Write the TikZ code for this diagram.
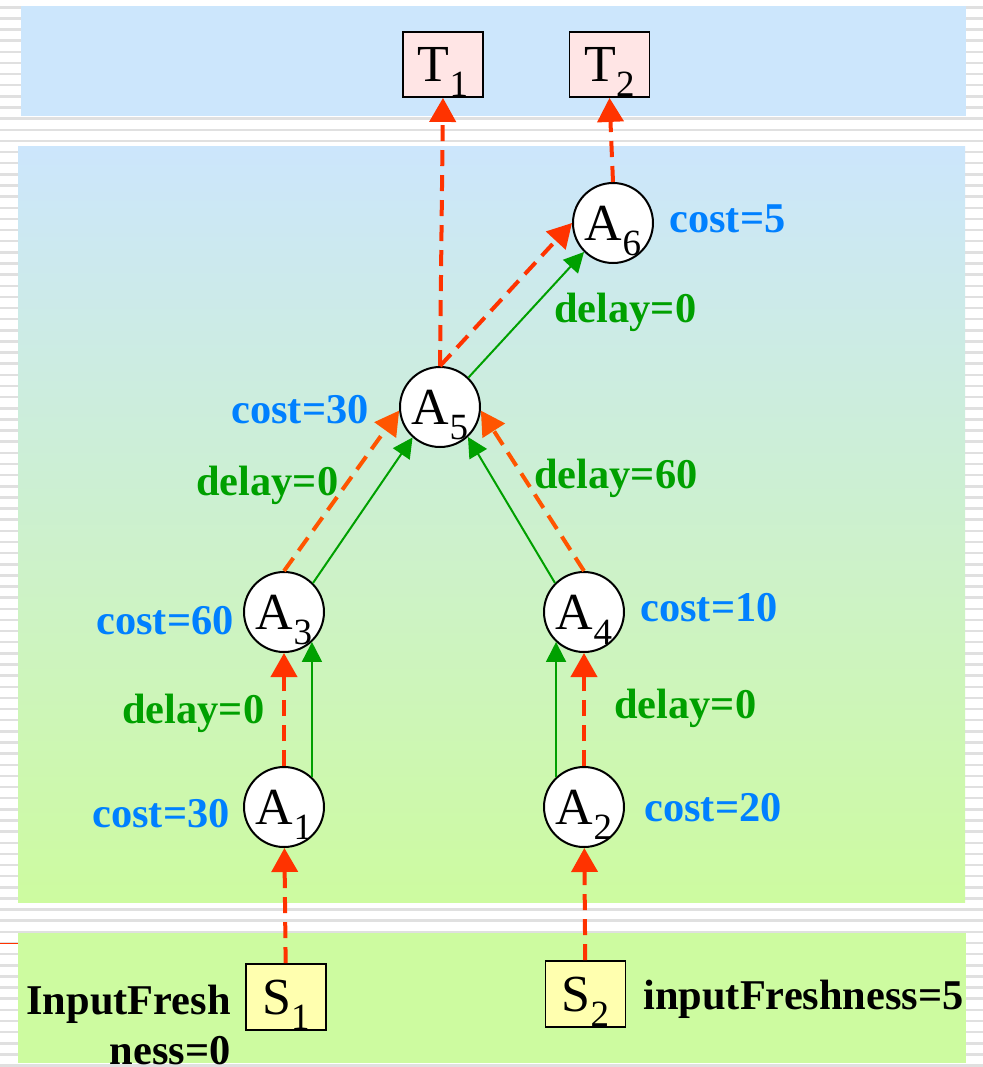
\documentclass[tikz,border=0pt]{standalone}
\usepackage{fontspec}
\setmainfont{Liberation Serif}
\usetikzlibrary{arrows.meta}
\definecolor{panelblue}{RGB}{204,230,252}
\definecolor{panelgreen}{RGB}{205,251,160}
\definecolor{stripegray}{RGB}{224,224,224}
\definecolor{flowred}{RGB}{255,51,0}
\definecolor{floworange}{RGB}{255,85,0}
\definecolor{delaygreen}{RGB}{0,160,0}
\definecolor{costblue}{RGB}{0,128,255}
\definecolor{targetpink}{RGB}{255,229,229}
\definecolor{sourceyellow}{RGB}{255,255,175}

% activity name with a lowered index
\newcommand{\idx}[2]{#1\raisebox{-7.5pt}{\fontsize{18.5}{18.5}\selectfont #2}}

\begin{document}
\begin{tikzpicture}[x=0.5pt, y=-0.5pt,
    act/.style={circle, draw, line width=1pt, fill=white, minimum size=40pt,
        inner sep=0pt, font=\fontsize{26}{30}\selectfont, text depth=0pt},
    target/.style={rectangle, draw, line width=0.9pt, fill=targetpink,
        minimum width=40pt, minimum height=32.5pt, inner sep=0pt,
        font=\fontsize{26}{30}\selectfont, text depth=0pt},
    source/.style={target, fill=sourceyellow, minimum height=33pt},
    flow/.style={draw=flowred, line width=2pt, dash pattern=on 8pt off 4.5pt,
        -{Triangle[length=12pt, width=13pt]}},
    ctrl/.style={draw=delaygreen, line width=1pt,
        -{Triangle[length=10pt, width=10pt]}},
    costlbl/.style={text=costblue, anchor=base west, inner sep=0pt,
        font=\bfseries\fontsize{21.2}{25}\selectfont},
    delaylbl/.style={costlbl, text=delaygreen},
    freshlbl/.style={costlbl, text=black}]

    \useasboundingbox (0,0) rectangle (983,1067);
    \fill[white] (0,0) rectangle (983,1067);

    % striped backdrop
    \foreach \i in {0,...,95}
        \fill[stripegray] (0,{6+\i*11.14}) rectangle (983,{8.5+\i*11.14});
    \draw[flowred, line width=0.5pt] (0,943) -- (18,943);

    % panels
    \fill[panelblue] (21,6) rectangle (966,116);
    \shade[top color=panelblue, bottom color=panelgreen] (18,146) rectangle (965,902);
    \fill[panelgreen] (18,933) rectangle (966,1063);

    % targets, activities, sources
    \node[target] (T1) at (443,64.5) {\idx{T}{1}};
    \node[target] (T2) at (609.5,64.5) {\idx{T}{2}};
    \node[act] (A6) at (613,223) {\idx{A}{6}};
    \node[act] (A5) at (440,407) {\idx{A}{5}};
    \node[act] (A3) at (284,612) {\idx{A}{3}};
    \node[act] (A4) at (584,612) {\idx{A}{4}};
    \node[act] (A1) at (284,807) {\idx{A}{1}};
    \node[act] (A2) at (584,807) {\idx{A}{2}};
    \node[source] (S1) at (286,997) {\idx{S}{1}};
    \node[source] (S2) at (585.5,994) {\idx{S}{2}};

    % data flow
    \draw[flow] (S1) -- (A1);
    \draw[flow] (S2) -- (A2);
    \draw[flow] (A1) -- (A3);
    \draw[flow] (A2) -- (A4);
    \draw[flow, draw=floworange] (A3.north) -- (A5.185);
    \draw[flow, draw=floworange] (A4.north) -- (A5.-5);
    \draw[flow] (A5.north) -- (A6.west);
    \draw[flow] (A5.north) -- (T1.south);
    \draw[flow] (A6.north) -- (T2.south);

    % delay links
    \draw[ctrl] (A1.47) -- (A3.-47);
    \draw[ctrl] (A2.133) -- (A4.-133);
    \draw[ctrl] (A3.45) -- (A5.228);
    \draw[ctrl] (A4.135) -- (A5.-47);
    \draw[ctrl] (A5.46) -- (A6.225);

    % costs and delays
    \node[costlbl] (c6) at (669,232) {cost=5};
    \node[delaylbl] (d56) at (554,322) {delay=0};
    \node[costlbl] (c5) at (231,423) {cost=30};
    \node[delaylbl] (d35) at (196,495) {delay=0};
    \node[delaylbl] (d45) at (534,488) {delay=60};
    \node[costlbl] (c3) at (96,634) {cost=60};
    \node[costlbl] (c4) at (640,621) {cost=10};
    \node[delaylbl] (d13) at (122,723) {delay=0};
    \node[delaylbl] (d24) at (614,718) {delay=0};
    \node[costlbl] (c1) at (92,827) {cost=30};
    \node[costlbl] (c2) at (644,821) {cost=20};

    % input freshness
    \node[freshlbl, align=right, anchor=base east] (f1) at (231,1064) {InputFresh\\ness=0};
    \node[freshlbl] (f2) at (643,1009) {inputFreshness=5};
\end{tikzpicture}
\end{document}
